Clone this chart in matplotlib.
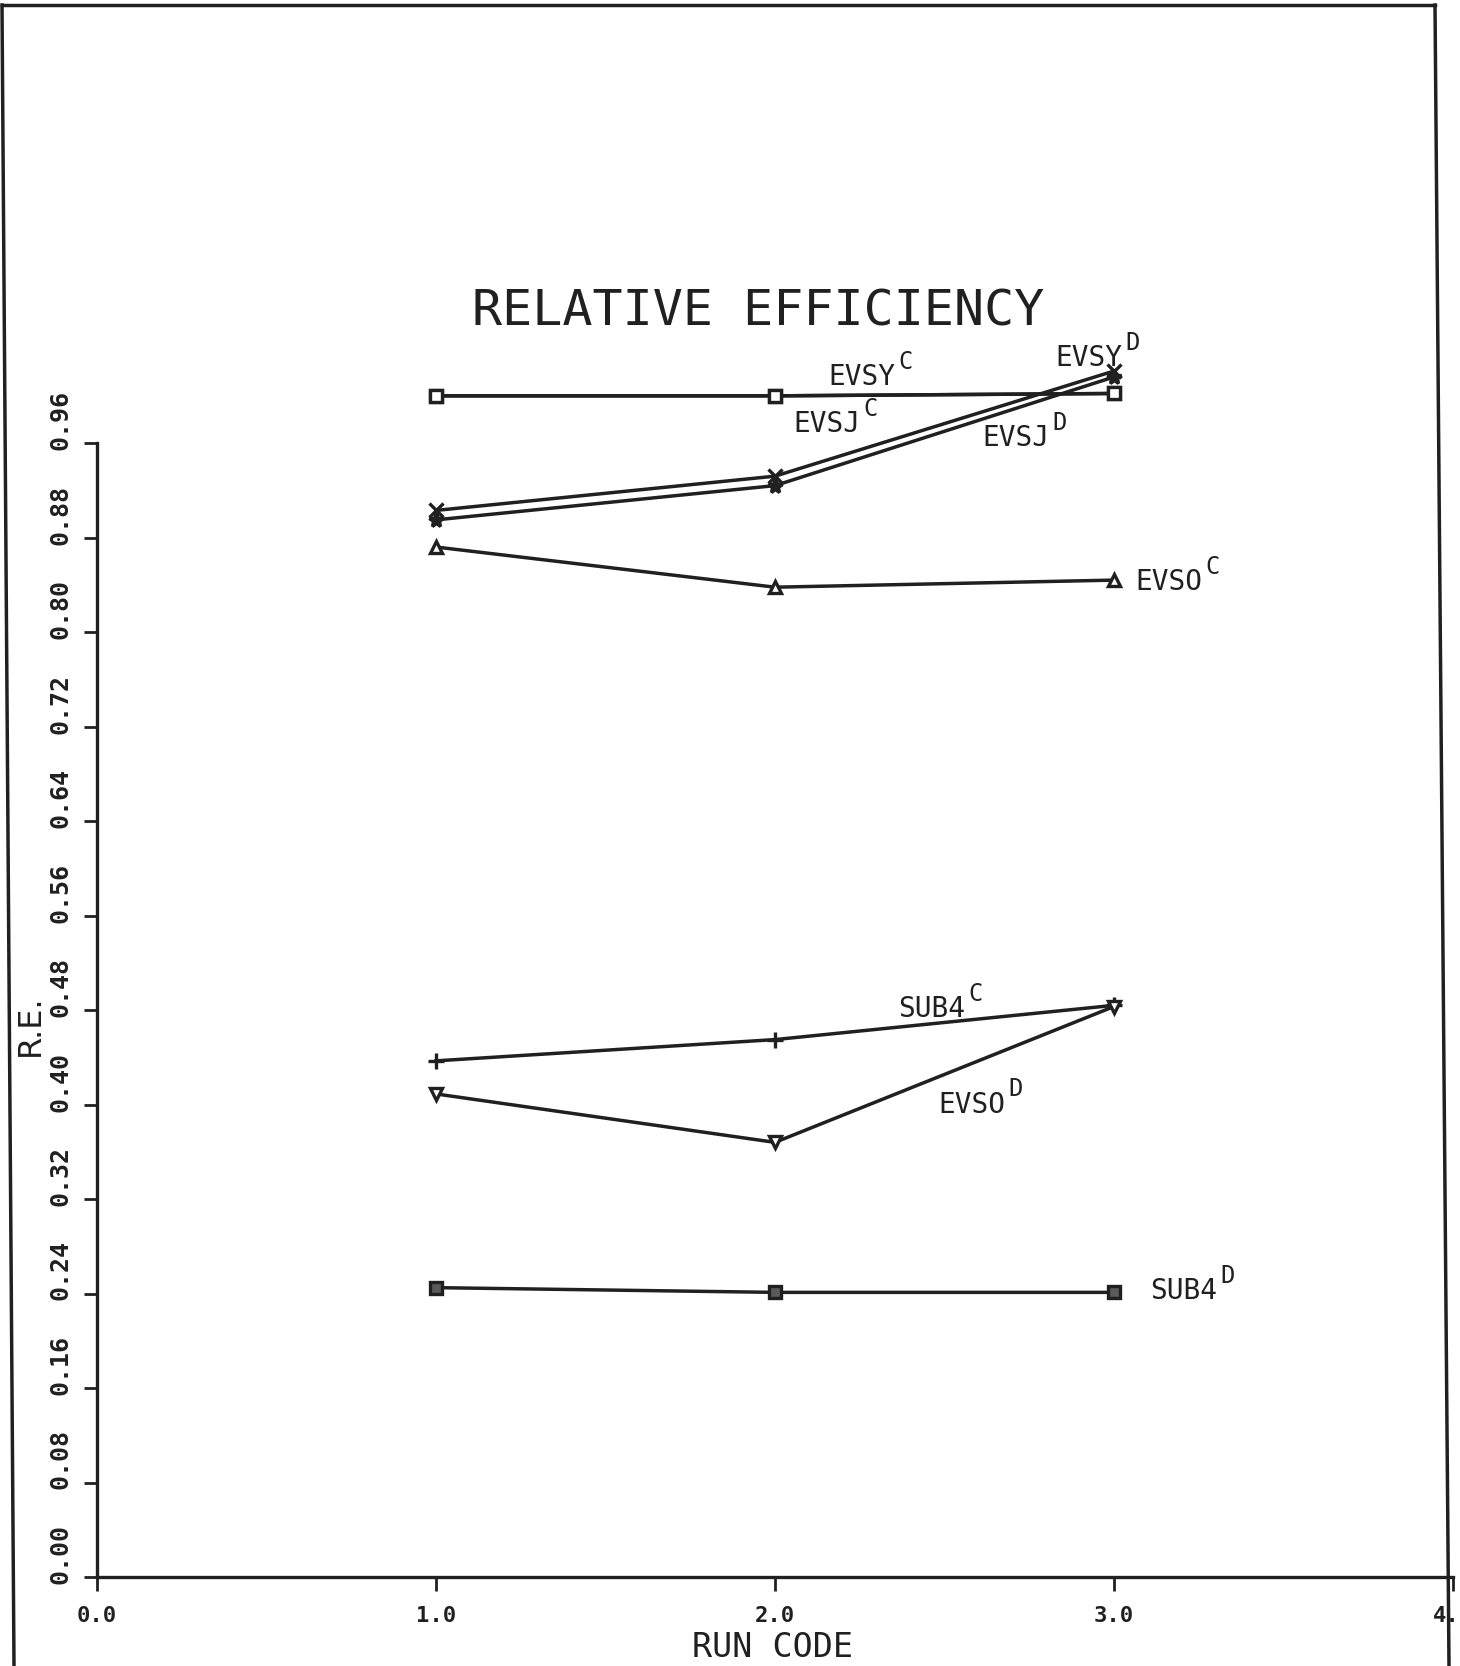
import matplotlib
matplotlib.use("Agg")
import matplotlib.pyplot as plt
from matplotlib.lines import Line2D

# run codes on the x axis
run_code = [1.0, 2.0, 3.0]

# relative efficiency
evsy_c = [1.000, 1.000, 1.002]
evsj_c = [1.000, 1.000, 1.002]
evsy_d = [0.903, 0.932, 1.021]
evsj_d = [0.895, 0.924, 1.016]
evso_c = [0.872, 0.838, 0.844]
sub4_c = [0.437, 0.455, 0.484]
evso_d = [0.409, 0.368, 0.483]
sub4_d = [0.245, 0.241, 0.241]

y_ticks = [0.00, 0.08, 0.16, 0.24, 0.32, 0.40, 0.48, 0.56, 0.64, 0.72, 0.80, 0.88, 0.96]
y_tick_labels = ["0.00", "0.08", "0.16", "0.24", "0.32", "0.40", "0.48",
                 "0.56", "0.64", "0.72", "0.80", "0.88", "0.96"]
x_ticks = [0.0, 1.0, 2.0, 3.0, 4.0]
x_tick_labels = ["0.0", "1.0", "2.0", "3.0", "4.0"]

INK = "#202020"
MONO = "DejaVu Sans Mono"


def add_label(ax, x, y, base, sup):
    # base name plus a raised suffix, like the plotter did
    ax.text(x, y, base, fontsize=20, family=MONO, color=INK, ha="left", va="center")
    ax.annotate(sup, xy=(x, y), xycoords="data", xytext=(len(base) * 12.1 + 2, 11),
                textcoords="offset points", fontsize=17, family=MONO, color=INK,
                ha="left", va="center")


def main():
    fig = plt.figure(figsize=(14.6, 16.66), dpi=100)
    ax = fig.add_axes([0.0664, 0.0534, 0.9288, 0.8508])
    ax.set_xlim(0, 4)
    ax.set_ylim(0, 1.2)

    series = [
        (evsy_c, "s", "white", 9),
        (evsj_c, "s", "white", 9),
        (evsy_d, "x", INK, 10),
        (evsj_d, "*", INK, 11),
        (evso_c, "^", "white", 9),
        (sub4_c, "+", INK, 11),
        (evso_d, "v", "white", 9),
        (sub4_d, "s", "#5a5a5a", 9),
    ]
    for values, marker, face, size in series:
        ax.plot(run_code, values, color=INK, lw=2.5, marker=marker, markersize=size,
                markerfacecolor=face, markeredgecolor=INK, markeredgewidth=2.4,
                clip_on=False)

    add_label(ax, 2.159, 1.016, "EVSY", "C")
    add_label(ax, 2.053, 0.976, "EVSJ", "C")
    add_label(ax, 2.611, 0.964, "EVSJ", "D")
    add_label(ax, 2.826, 1.032, "EVSY", "D")
    add_label(ax, 3.062, 0.842, "EVSO", "C")
    add_label(ax, 2.363, 0.481, "SUB4", "C")
    add_label(ax, 2.481, 0.400, "EVSO", "D")
    add_label(ax, 3.106, 0.242, "SUB4", "D")

    # axes styling: only left and bottom, left one stops at 0.96
    for side in ["top", "right"]:
        ax.spines[side].set_visible(False)
    ax.spines["left"].set_bounds(0, 0.96)
    for side in ["left", "bottom"]:
        ax.spines[side].set_linewidth(2.4)
        ax.spines[side].set_color(INK)

    ax.set_yticks(y_ticks)
    ax.set_yticklabels([])
    ax.tick_params(axis="y", direction="out", length=9.5, width=2.0, color=INK)
    for v, lab in zip(y_ticks, y_tick_labels):
        ax.annotate(lab, xy=(0, v), xycoords=("axes fraction", "data"),
                    xytext=(-26, -5), textcoords="offset points", rotation=90,
                    rotation_mode="anchor", ha="left", va="center",
                    fontsize=18, family=MONO, fontweight="bold", color=INK)

    ax.set_xticks(x_ticks)
    ax.set_xticklabels(x_tick_labels, fontsize=16, family=MONO, fontweight="bold", color=INK)
    ax.tick_params(axis="x", direction="out", length=10, width=2.0, color=INK, pad=11)

    fig.text(0.519, 0.8133, "RELATIVE EFFICIENCY", fontsize=36, family=MONO,
             color=INK, ha="center", va="center")
    fig.text(0.529, 0.0112, "RUN CODE", fontsize=24, family=MONO, color=INK,
             ha="center", va="center")
    fig.text(0.0205, 0.3847, "R.E.", fontsize=23, color=INK, rotation=90,
             ha="center", va="center")

    # scanned page frame
    W, H = 1460.0, 1666.0
    frame = [((2, 5), (14, 1666)), ((2, 5), (1435, 5)), ((1435, 5), (1449, 1666))]
    for (x0, y0), (x1, y1) in frame:
        fig.add_artist(Line2D([x0 / W, x1 / W], [1 - y0 / H, 1 - y1 / H],
                              transform=fig.transFigure, color=INK, lw=2.5))

    fig.savefig("out.png", dpi=100)


if __name__ == "__main__":
    main()
